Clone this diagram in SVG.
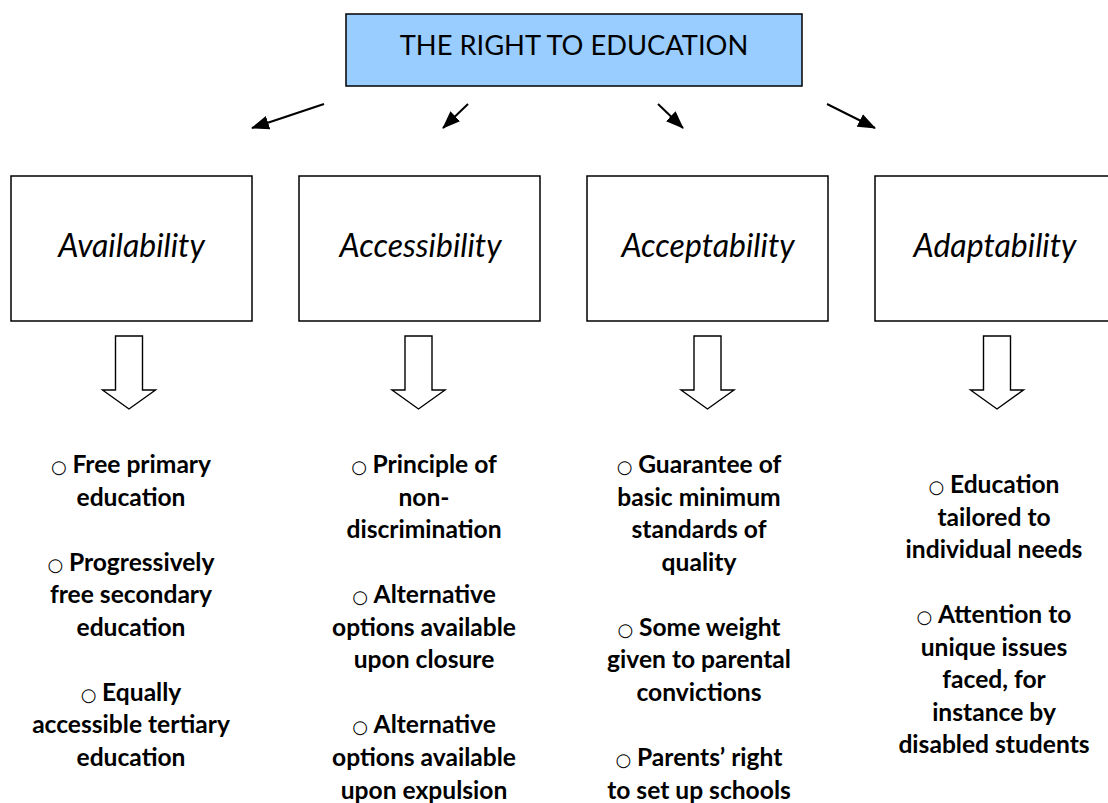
<svg xmlns="http://www.w3.org/2000/svg" width="1108" height="803" viewBox="0 0 1108 803">
<style>
  .bg { fill: #ffffff; }
  .box { fill: #ffffff; stroke: #000000; stroke-width: 1.5; }
  .top { fill: #99ccff; stroke: #000000; stroke-width: 1.5; }
  .title { font-family: Lato, "Liberation Sans", sans-serif; font-size: 27.3px; fill: #000; }
  .label { font-family: Lato, "Liberation Sans", sans-serif; font-size: 32px; font-style: italic; fill: #000; text-anchor: middle; }
  .bul { font-family: Lato, "Liberation Sans", sans-serif; font-size: 24.6px; font-weight: bold; fill: #000; text-anchor: middle; }
  .dot { font-family: "DejaVu Sans", sans-serif; font-weight: normal; font-size: 18px; }
  .link { stroke: #000; stroke-width: 2; fill: none; marker-end: url(#head); }
  .block { fill: #ffffff; stroke: #000; stroke-width: 1.4; stroke-linejoin: miter; }
</style>
<defs>
  <marker id="head" viewBox="0 0 18 14" refX="17" refY="7" markerWidth="18" markerHeight="14" markerUnits="userSpaceOnUse" orient="auto">
    <path d="M0,0 L18,7 L0,14 Z" fill="#000"/>
  </marker>
</defs>
<rect class="bg" x="0" y="0" width="1108" height="803"/>

<g id="node-root">
  <rect class="top" x="346" y="14" width="456" height="72"/>
  <text class="title" x="574" y="55" text-anchor="middle">THE RIGHT TO EDUCATION</text>
</g>

<g id="connectors">
  <line class="link" x1="324" y1="104" x2="252" y2="128"/>
  <line class="link" x1="468" y1="104" x2="443" y2="128"/>
  <line class="link" x1="658" y1="104" x2="683" y2="128"/>
  <line class="link" x1="827" y1="104" x2="875" y2="128"/>
  <path class="block" d="M115.5,336 H142.5 V390 H155.5 L129,409 L102.5,390 H115.5 Z"/>
  <path class="block" d="M405,336 H432 V390 H445 L418.5,409 L392,390 H405 Z"/>
  <path class="block" d="M694,336 H721 V390 H734 L707.5,409 L681,390 H694 Z"/>
  <path class="block" d="M983.5,336 H1010.5 V390 H1023.5 L997,409 L970.5,390 H983.5 Z"/>
</g>

<g id="node-availability">
  <rect class="box" x="11" y="176" width="241" height="145"/>
  <text class="label" x="131.5" y="257">Availability</text>
</g>
<g id="node-accessibility">
  <rect class="box" x="299" y="176" width="241" height="145"/>
  <text class="label" x="420.5" y="257">Accessibility</text>
</g>
<g id="node-acceptability">
  <rect class="box" x="587" y="176" width="241" height="145"/>
  <text class="label" x="708" y="257">Acceptability</text>
</g>
<g id="node-adaptability">
  <rect class="box" x="875" y="176" width="241" height="145"/>
  <text class="label" x="995" y="257">Adaptability</text>
</g>

<g id="list-availability">
  <text class="bul" x="131" y="473"><tspan class="dot">○ </tspan>Free primary</text>
  <text class="bul" x="131" y="505.6">education</text>
  <text class="bul" x="131" y="570.7"><tspan class="dot">○ </tspan>Progressively</text>
  <text class="bul" x="131" y="603.2">free secondary</text>
  <text class="bul" x="131" y="635.8">education</text>
  <text class="bul" x="131" y="700.9"><tspan class="dot">○ </tspan>Equally</text>
  <text class="bul" x="131" y="733.4">accessible tertiary</text>
  <text class="bul" x="131" y="766">education</text>
</g>
<g id="list-accessibility">
  <text class="bul" x="424" y="473"><tspan class="dot">○ </tspan>Principle of</text>
  <text class="bul" x="424" y="505.6">non-</text>
  <text class="bul" x="424" y="538.1">discrimination</text>
  <text class="bul" x="424" y="603.2"><tspan class="dot">○ </tspan>Alternative</text>
  <text class="bul" x="424" y="635.8">options available</text>
  <text class="bul" x="424" y="668.3">upon closure</text>
  <text class="bul" x="424" y="733.4"><tspan class="dot">○ </tspan>Alternative</text>
  <text class="bul" x="424" y="766">options available</text>
  <text class="bul" x="424" y="798.5">upon expulsion</text>
</g>
<g id="list-acceptability">
  <text class="bul" x="699" y="473"><tspan class="dot">○ </tspan>Guarantee of</text>
  <text class="bul" x="699" y="505.6">basic minimum</text>
  <text class="bul" x="699" y="538.1">standards of</text>
  <text class="bul" x="699" y="570.7">quality</text>
  <text class="bul" x="699" y="635.8"><tspan class="dot">○ </tspan>Some weight</text>
  <text class="bul" x="699" y="668.3">given to parental</text>
  <text class="bul" x="699" y="700.9">convictions</text>
  <text class="bul" x="699" y="766"><tspan class="dot">○ </tspan>Parents’ right</text>
  <text class="bul" x="699" y="798.5">to set up schools</text>
</g>
<g id="list-adaptability">
  <text class="bul" x="994" y="493"><tspan class="dot">○ </tspan>Education</text>
  <text class="bul" x="994" y="525.6">tailored to</text>
  <text class="bul" x="994" y="558.1">individual needs</text>
  <text class="bul" x="994" y="623.2"><tspan class="dot">○ </tspan>Attention to</text>
  <text class="bul" x="994" y="655.8">unique issues</text>
  <text class="bul" x="994" y="688.3">faced, for</text>
  <text class="bul" x="994" y="720.9">instance by</text>
  <text class="bul" x="994" y="753.4">disabled students</text>
</g>
</svg>
